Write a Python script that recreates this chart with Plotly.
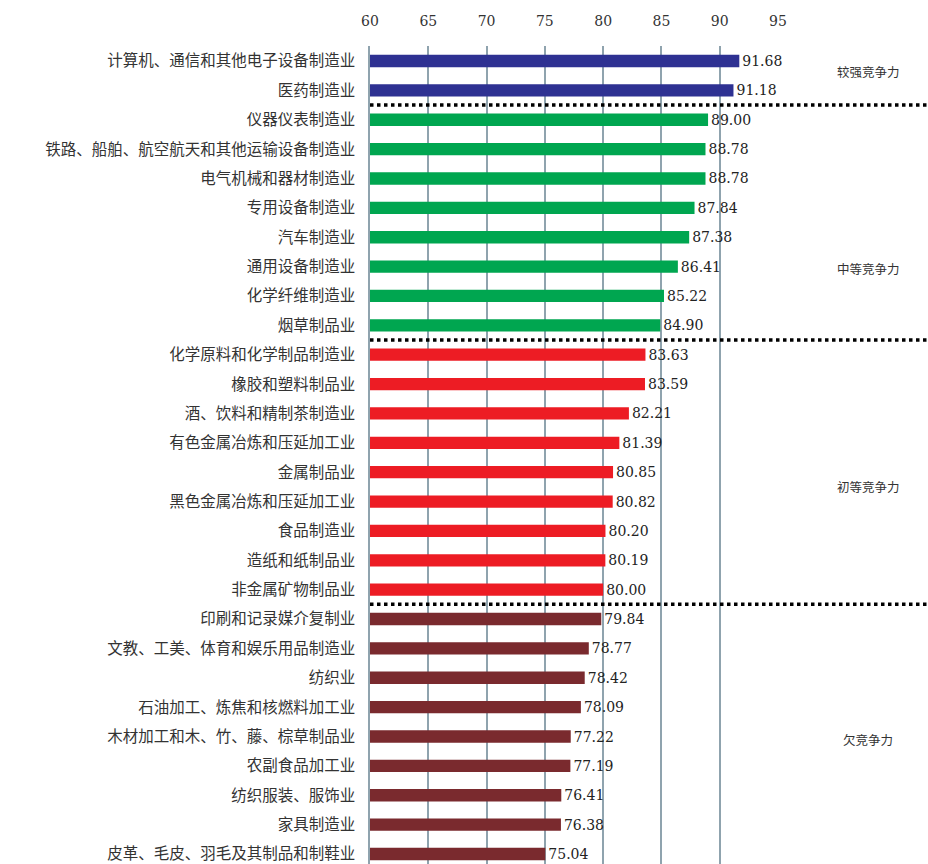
import plotly.graph_objects as go

industries = [
    "计算机、通信和其他电子设备制造业", "医药制造业",
    "仪器仪表制造业", "铁路、船舶、航空航天和其他运输设备制造业", "电气机械和器材制造业",
    "专用设备制造业", "汽车制造业", "通用设备制造业", "化学纤维制造业", "烟草制品业",
    "化学原料和化学制品制造业", "橡胶和塑料制品业", "酒、饮料和精制茶制造业",
    "有色金属冶炼和压延加工业", "金属制品业", "黑色金属冶炼和压延加工业", "食品制造业",
    "造纸和纸制品业", "非金属矿物制品业",
    "印刷和记录媒介复制业", "文教、工美、体育和娱乐用品制造业", "纺织业",
    "石油加工、炼焦和核燃料加工业", "木材加工和木、竹、藤、棕草制品业", "农副食品加工业",
    "纺织服装、服饰业", "家具制造业", "皮革、毛皮、羽毛及其制品和制鞋业",
]
scores = [
    91.68, 91.18,
    89.00, 88.78, 88.78, 87.84, 87.38, 86.41, 85.22, 84.90,
    83.63, 83.59, 82.21, 81.39, 80.85, 80.82, 80.20, 80.19, 80.00,
    79.84, 78.77, 78.42, 78.09, 77.22, 77.19, 76.41, 76.38, 75.04,
]
group_names = ["较强竞争力", "中等竞争力", "初等竞争力", "欠竞争力"]
group_sizes = [2, 8, 9, 9]
group_colors = ["#2E3192", "#00A650", "#ED1C24", "#7A2A2E"]
x_ticks = [60, 65, 70, 75, 80, 85, 90, 95]

fig = go.Figure()
start = 0
group_bounds = []
for name, size, color in zip(group_names, group_sizes, group_colors):
    cats = industries[start:start + size]
    vals = scores[start:start + size]
    fig.add_trace(go.Bar(
        x=vals, y=cats, orientation="h", name=name,
        marker=dict(color=color, line=dict(width=0)),
        width=0.42,
        text=[f"{v:.2f}" for v in vals], textposition="outside",
        textfont=dict(family="DejaVu Serif", size=14, color="#222"),
        constraintext="none", cliponaxis=False,
    ))
    group_bounds.append((start, start + size - 1))
    start += size

n = len(industries)
fig.update_layout(
    width=928, height=864,
    margin=dict(l=370, r=150, t=46, b=0),
    plot_bgcolor="white", paper_bgcolor="white",
    showlegend=False, bargap=0.5, barmode="overlay",
    font=dict(family="Noto Sans CJK SC", color="#333"),
)
fig.update_xaxes(
    side="top", range=[60, 95], tickvals=x_ticks,
    showgrid=True, gridcolor="#8FA3AE", gridwidth=1.5,
    zeroline=False, showline=False, ticks="",
    tickfont=dict(family="DejaVu Serif", size=14, color="#333"),
    ticklabelstandoff=16,
    fixedrange=True,
)
fig.update_yaxes(
    categoryorder="array", categoryarray=industries,
    range=[n - 1 + 0.34, -0.51], showgrid=False, ticks="",
    showline=True, linecolor="#8FA3AE", linewidth=1.5,
    tickfont=dict(family="Noto Sans CJK SC", size=15.5, color="#333"),
    ticklabelstandoff=10,
)

# dotted separators between groups
for (s, e) in group_bounds[:-1]:
    fig.add_shape(type="line", xref="paper", yref="y",
                  x0=0, x1=(928 - 370) / (928 - 370 - 150), y0=e + 0.5, y1=e + 0.5,
                  line=dict(color="black", width=3.5, dash="dot"), layer="above")

# group labels on the right
label_rows = [0.35, 7.05, 14.5, 23.1]
for name, yy in zip(group_names, label_rows):
    fig.add_annotation(text=name, xref="paper", x=(868 - 370) / 408, yref="y", y=yy,
                       showarrow=False, xanchor="center",
                       font=dict(family="Noto Sans CJK SC", size=12.5, color="#333"))

fig.write_html("out.html")
